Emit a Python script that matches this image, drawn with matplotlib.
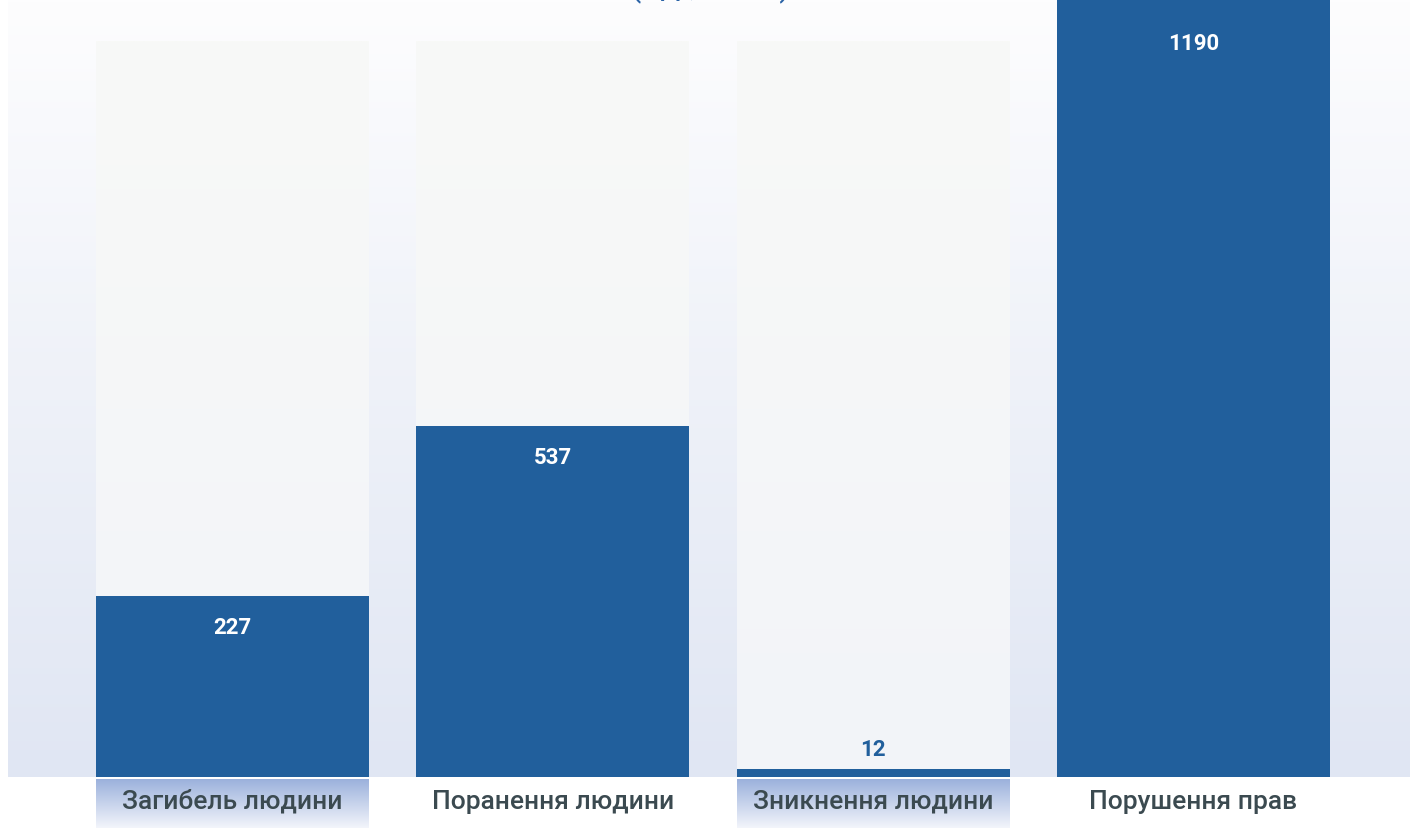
import numpy as np
import matplotlib.pyplot as plt
from matplotlib.colors import LinearSegmentedColormap

categories = ['Загибель людини', 'Поранення людини', 'Зникнення людини', 'Порушення прав']
values = [227, 537, 12, 1190]
# bar height as a share of the full (light) track
bar_share = [0.246, 0.477, 0.011, 1.2]
highlighted = [True, False, True, False]
title = '(од., 2022)'

W, H, DPI = 1410, 829, 100
BLUE = '#215f9c'
TEXT = '#3b4a50'

plt.rcParams['font.family'] = ['Roboto', 'DejaVu Sans']

fig = plt.figure(figsize=(W / DPI, H / DPI), dpi=DPI)
fig.patch.set_facecolor('white')

# main plot area, pixels 8..1410 x 0..778
ax = fig.add_axes([8 / W, (H - 778) / H, (W - 8) / W, 778 / H])
x = np.arange(len(categories))
xmin, xmax = -0.701, 3.676
ytop = 778 / 736
ax.axis('off')

grad = np.linspace(0, 1, 256).reshape(-1, 1)
bg_cmap = LinearSegmentedColormap.from_list('bg', ['#fdfdfe', '#e0e6f3'])
ax.imshow(grad, extent=[xmin, xmax, 0, ytop], origin='upper', cmap=bg_cmap,
          aspect='auto', zorder=0)

width = 0.852
track_cmap = LinearSegmentedColormap.from_list('tr', ['#f8f9f7', '#f2f4f9'])
for xi in x:
    ax.imshow(grad, extent=[xi - width / 2, xi + width / 2, 0, 1], origin='upper',
              cmap=track_cmap, aspect='auto', zorder=1)

ax.bar(x, bar_share, width=width, color=BLUE, zorder=2)
ax.set_xlim(xmin, xmax)
ax.set_ylim(0, ytop)

for xi, v, s in zip(x, values, bar_share):
    if s < 0.05:
        ax.annotate(str(v), (xi, s), xytext=(0, 20), textcoords='offset pixels',
                    ha='center', va='center', color=BLUE, fontsize=16,
                    fontweight='bold', zorder=3)
    else:
        ax.annotate(str(v), (xi, min(s, 1.04)), xytext=(0, -31), textcoords='offset pixels',
                    ha='center', va='center', color='white', fontsize=16,
                    fontweight='bold', zorder=3)

# category labels strip, pixels 780..829
lax = fig.add_axes([8 / W, 0, (W - 8) / W, 49 / H])
lax.axis('off')
box_cmap = LinearSegmentedColormap.from_list('bx', ['#9bb1dc', '#f3f5fb'])
for xi, lab, hl in zip(x, categories, highlighted):
    if hl:
        lax.imshow(grad, extent=[xi - width / 2, xi + width / 2, 0, 1], origin='upper',
                   cmap=box_cmap, aspect='auto', zorder=0)
    lax.text(xi, 0.56, lab, ha='center', va='center', color=TEXT, fontsize=19,
             fontweight='medium')
lax.set_xlim(xmin, xmax)
lax.set_ylim(0, 1)

fig.text(710 / W, 1 + 4 / H, title, ha='center', va='baseline', color='#2a63a6',
         fontsize=24)

fig.savefig('out.png', dpi=DPI)
